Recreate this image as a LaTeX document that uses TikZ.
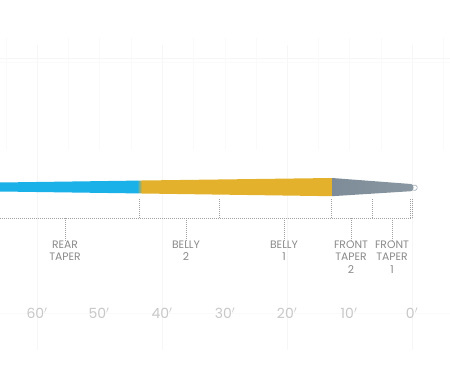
\documentclass[tikz,border=0pt]{standalone}
\usepackage{fontspec}
\setmainfont{Poppins}
\definecolor{lineblue}{HTML}{1AB0E8}
\definecolor{lineyellow}{HTML}{E3B12B}
\definecolor{linegrey}{HTML}{7D8C98}
\definecolor{labelgrey}{HTML}{8A8A8A}
\definecolor{numgrey}{HTML}{C8C8C8}
\definecolor{gridgrey}{HTML}{F6F6F6}
\definecolor{gridlight}{HTML}{FAFAFA}
\tikzset{
  gridmajor/.style={draw=gridgrey, line width=0.8pt},
  gridminor/.style={draw=gridlight, line width=0.6pt},
  dotline/.style={draw=labelgrey!80, line width=0.6pt, dash pattern=on 0.8pt off 1.2pt},
  seglabel/.style={text=labelgrey, align=center, font=\fontsize{10.8}{12.5}\selectfont, anchor=north, inner sep=0pt},
  scalelabel/.style={text=numgrey, font=\fontsize{14}{15}\selectfont, inner sep=0pt},
}
\begin{document}
\begin{tikzpicture}[x=1pt,y=-1pt]
\useasboundingbox[fill=white] (0,0) rectangle (450,375);
% faint grid
\foreach \x in {37,162,287,412} \draw[gridmajor] (\x,45) -- (\x,350);
\foreach \x in {6,68,99,131,193,225,256,318,349,381,443} \draw[gridminor] (\x,38) -- (\x,150);
\draw[gridmajor] (0,58) -- (450,58);
\draw[gridminor] (0,62) -- (450,62);
\draw[gridminor] (0,313) -- (450,313);
% fly line
\fill[lineblue] (0,182.5) -- (137,180.6) -- (137,193.4) -- (0,191.5) -- cycle;
\shade[left color=lineblue, right color=lineyellow] (137,180.6) -- (142,180.5) -- (142,193.5) -- (137,193.4) -- cycle;
\fill[lineyellow] (142,180.5) -- (332,178) -- (332,196.2) -- (142,193.5) -- cycle;
\shade[left color=linegrey, right color=linegrey!90!white] (332,178) -- (411,184) to[out=0,in=0,looseness=1.2] (411,191.2) -- (332,196.2) -- cycle;
\draw[linegrey!70, line width=0.6pt] (413.1,190.1) arc (120:-120:2.8);
% baseline and ticks
\coordinate (b0) at (0,218);
\coordinate (b1) at (412,218);
\draw[dotline] (b0) -- (b1);
\foreach \x/\n in {139/u1,219/u2,331/u3,372/u4,410/u5,412.5/u6} {
  \coordinate (\n t) at (\x,199);
  \coordinate (\n b) at (\x,218);
  \draw[dotline] (\n t) -- (\n b);
}
\node[seglabel] (rt) at (65,240.5) {REAR\\TAPER};
\node[seglabel] (b2) at (186,240.5) {BELLY\\2};
\node[seglabel] (b1l) at (284,240.5) {BELLY\\1};
\node[seglabel] (ft2) at (351,240.5) {FRONT\\TAPER\\2};
\node[seglabel] (ft1) at (392,240.5) {FRONT\\TAPER\\1};
\foreach \n/\x in {rt/65,b2/186,b1l/284,ft2/351,ft1/392} {
  \coordinate (\n c) at (\x,218);
  \draw[dotline] (\n c) -- (\n.north);
}
% scale
\foreach \x/\t in {37/60,99/50,162/40,225/30,287/20,349/10,412/0}
  \node[scalelabel] (s\t) at (\x,313.5) {\t$'$};
\end{tikzpicture}
\end{document}
